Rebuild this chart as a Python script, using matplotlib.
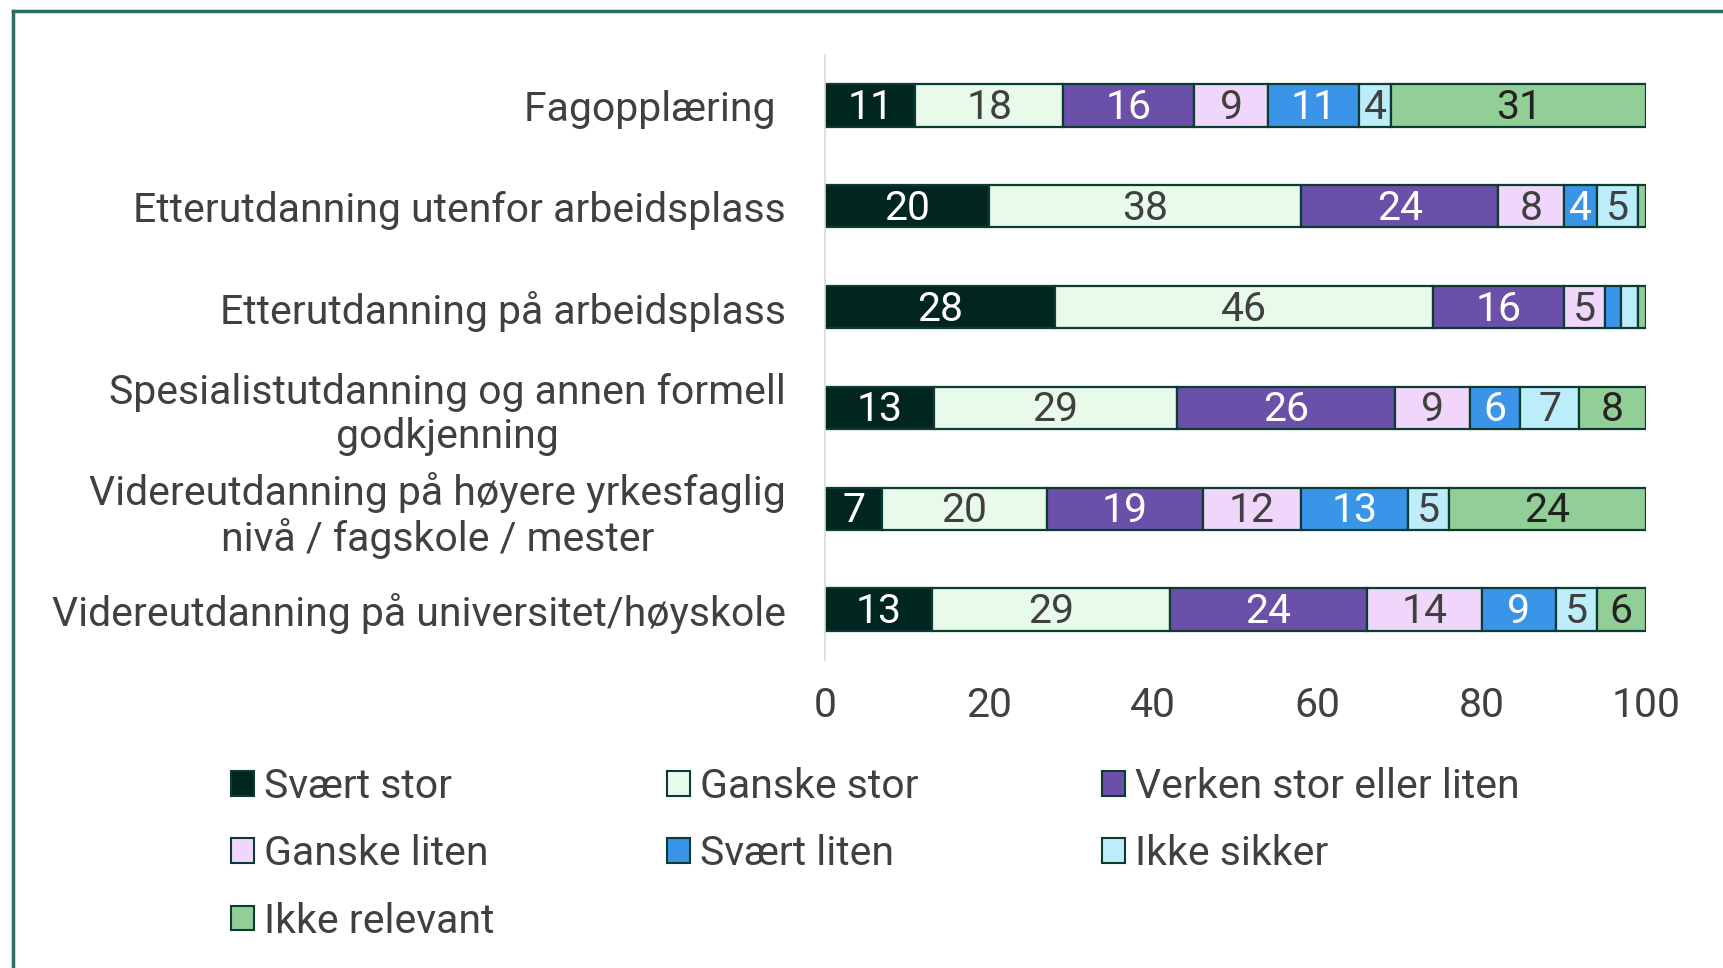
import matplotlib
matplotlib.use("Agg")
import matplotlib.pyplot as plt
from matplotlib.patches import Patch
from matplotlib.lines import Line2D
from matplotlib.transforms import ScaledTranslation

plt.rcParams['font.family'] = ['Roboto', 'DejaVu Sans']

categories = [
    "Fagopplæring ",
    "Etterutdanning utenfor arbeidsplass",
    "Etterutdanning på arbeidsplass",
    "Spesialistutdanning og annen formell\ngodkjenning",
    "Videreutdanning på høyere yrkesfaglig\nnivå / fagskole / mester",
    "Videreutdanning på universitet/høyskole",
]
series_names = ["Svært stor", "Ganske stor", "Verken stor eller liten",
                "Ganske liten", "Svært liten", "Ikke sikker", "Ikke relevant"]

svaert_stor = [11, 20, 28, 13, 7, 13]
ganske_stor = [18, 38, 46, 29, 20, 29]
verken = [16, 24, 16, 26, 19, 24]
ganske_liten = [9, 8, 5, 9, 12, 14]
svaert_liten = [11, 4, 2, 6, 13, 9]
ikke_sikker = [4, 5, 2, 7, 5, 5]
ikke_relevant = [31, 1, 1, 8, 24, 6]

series = [svaert_stor, ganske_stor, verken, ganske_liten, svaert_liten, ikke_sikker, ikke_relevant]
colors = ["#00261f", "#e8fbea", "#6a50a8", "#f0d6fb", "#3a94e7", "#bdecfb", "#92cf97"]
text_colors = ["white", "#404040", "white", "#404040", "white", "#404040", "#222222"]
edge = "#0b3c34"
xticks = [0, 20, 40, 60, 80, 100]

W, H = 1724, 968
fig = plt.figure(figsize=(W / 100, H / 100), dpi=100)
ax = fig.add_axes([825 / W, 1 - 660 / H, (1646 - 825) / W, (660 - 55) / H])

n = len(categories)
totals = [sum(s[i] for s in series) for i in range(n)]
ypos = list(range(n))
left = [0.0] * n
fs = 29.5
for k, s in enumerate(series):
    widths = [s[i] / totals[i] * 100 for i in range(n)]
    ax.barh(ypos, widths, left=left, height=0.42, color=colors[k],
            edgecolor=edge, linewidth=1.6, label=series_names[k])
    for i in range(n):
        if s[i] >= 3:
            ax.text(left[i] + widths[i] / 2, ypos[i] + 0.02, str(s[i]), ha='center', va='center',
                    color=text_colors[k], fontsize=fs)
    left = [left[i] + widths[i] for i in range(n)]

ax.set_ylim(n - 0.5, -0.5)
ax.set_xlim(0, 100)
ax.set_yticks(ypos)
ax.set_yticklabels(categories, fontsize=fs, color="#404040", multialignment='center',
                   linespacing=1.17)
shift = ScaledTranslation(0, 3 / 100, fig.dpi_scale_trans)
for lab in ax.get_yticklabels():
    lab.set_transform(lab.get_transform() + shift)
ax.set_xticks(xticks)
ax.set_xticklabels([str(v) for v in xticks], fontsize=fs, color="#404040")
ax.tick_params(axis='both', length=0)
ax.tick_params(axis='y', pad=28)
ax.tick_params(axis='x', pad=19)
for sp in ['top', 'right', 'bottom']:
    ax.spines[sp].set_visible(False)
ax.spines['left'].set_color("#d9d9d9")
ax.spines['left'].set_linewidth(1.2)

# legend in three columns, row-wise order
col_x = [231 / W, 667 / W, 1102 / W]
cols = [[0, 3, 6], [1, 4], [2, 5]]
for c, idxs in enumerate(cols):
    handles = [Patch(facecolor=colors[k], edgecolor=edge, linewidth=1.5) for k in idxs]
    labels = [series_names[k] for k in idxs]
    fig.legend(handles, labels, loc='upper left', bbox_to_anchor=(col_x[c], 1 - 767 / H),
               frameon=False, fontsize=fs, handlelength=0.55, handleheight=0.55,
               handletextpad=0.25, labelspacing=0.69, borderaxespad=0, borderpad=0,
               labelcolor="#404040")

# frame lines (left and top)
fig.add_artist(Line2D([13 / W, 13 / W], [0, 1 - 11 / H], color="#2e6b60", linewidth=2.5, transform=fig.transFigure))
fig.add_artist(Line2D([13 / W, 1], [1 - 11 / H, 1 - 11 / H], color="#2e6b60", linewidth=2.5, transform=fig.transFigure))

fig.savefig("out.png", dpi=100)
